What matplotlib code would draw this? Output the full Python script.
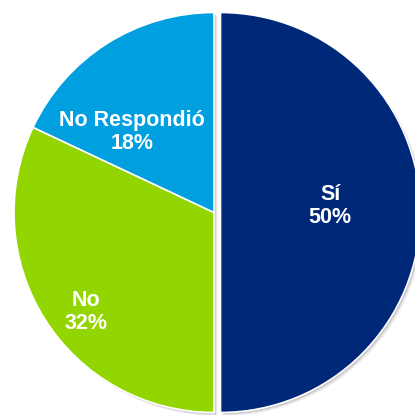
import matplotlib
matplotlib.use("Agg")
import matplotlib.pyplot as plt
from matplotlib.patches import Wedge
import numpy as np

# Survey answers
categories = ["Sí", "No", "No Respondió"]
shares = [50, 32, 18]
colors = ["#002878", "#93D500", "#009FDF"]

# Label placement per slice: (fraction of radius, angle in degrees) from slice centre
label_place = [(0.55, 3.5), (0.81, 218), (0.575, 135.5)]

W = H = 415
fig = plt.figure(figsize=(W / 100, H / 100), dpi=100)
ax = fig.add_axes([0, 0, 1, 1])

radius = 200
center = (214, H - 212.5)
explode = [6.5, 0, 0]  # pie offsets are in data units

wedges, _ = ax.pie(
    shares,
    colors=colors,
    startangle=90,
    counterclock=False,
    radius=radius,
    center=center,
    explode=explode,
    wedgeprops=dict(edgecolor="white", linewidth=1.2),
    frame=True,
)
ax.set_xlim(0, W)
ax.set_ylim(0, H)
ax.set_aspect("equal")
ax.axis("off")

# soft drop shadow behind each slice
for w in wedges:
    for off, a in [(3.5, 0.10), (2.5, 0.18), (1.5, 0.25)]:
        sh = Wedge((w.center[0] + off, w.center[1] - off), w.r, w.theta1, w.theta2,
                   facecolor="#808080", edgecolor="none", alpha=a, zorder=w.get_zorder() - 0.5)
        ax.add_patch(sh)

for w, name, val, (dist, ang) in zip(wedges, categories, shares, label_place):
    cx, cy = w.center
    t = np.deg2rad(ang)
    x = cx + dist * w.r * np.cos(t)
    y = cy + dist * w.r * np.sin(t)
    ax.text(x, y, f"{name}\n{val}%", ha="center", va="center", color="white",
            fontsize=15.5, fontweight="bold", family="Liberation Sans",
            linespacing=1.15, zorder=5)

fig.savefig("out.png", dpi=100, facecolor="white")
